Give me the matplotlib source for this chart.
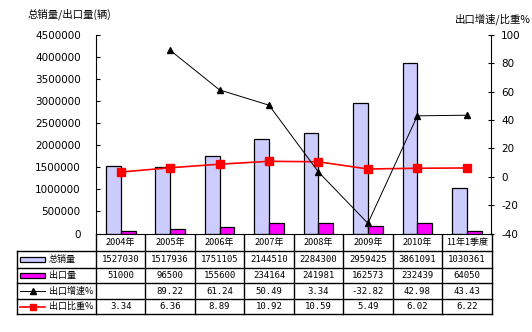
import numpy as np
import matplotlib
matplotlib.use('Agg')
import matplotlib.pyplot as plt
from matplotlib.patches import Rectangle

plt.rcParams['font.family'] = ['Noto Sans CJK SC', 'DejaVu Sans']

cats = ['2004年', '2005年', '2006年', '2007年', '2008年', '2009年', '2010年', '11年1季度']
total = [1527030, 1517936, 1751105, 2144510, 2284300, 2959425, 3861091, 1030361]
export = [51000, 96500, 155600, 234164, 241981, 162573, 232439, 64050]
growth = [np.nan, 89.22, 61.24, 50.49, 3.34, -32.82, 42.98, 43.43]
share = [3.34, 6.36, 8.89, 10.92, 10.59, 5.49, 6.02, 6.22]
growth_txt = ['', '89.22', '61.24', '50.49', '3.34', '-32.82', '42.98', '43.43']
share_txt = ['3.34', '6.36', '8.89', '10.92', '10.59', '5.49', '6.02', '6.22']
row_names = ['总销量', '出口量', '出口增速%', '出口比重%']

W, H = 532, 332
fig = plt.figure(figsize=(W / 100, H / 100), dpi=100)

# plot area in pixels
L, R, T, B = 96, 491.5, 35, 233.5
ax = fig.add_axes([L / W, 1 - B / H, (R - L) / W, (B - T) / H])
n = len(cats)
x = np.arange(n) + 0.5
bw = 0.3

ax.bar(x - bw, total, bw, align='edge', color='#CCCCFF', edgecolor='black', linewidth=0.9)
ax.bar(x, export, bw, align='edge', color='#FF00FF', edgecolor='black', linewidth=0.9)
ax.set_xlim(0, n)
ax.set_ylim(0, 4500000)
ax.set_yticks(np.arange(0, 4500001, 500000))
ax.set_yticklabels([str(v) for v in range(0, 4500001, 500000)], fontsize=7.5,
                   family='DejaVu Sans')
ax.tick_params(axis='y', direction='in', length=3, pad=11)
ax.set_xticks([])
for s in ['top', 'right']:
    ax.spines[s].set_visible(False)

ax2 = ax.twinx()
ax2.plot(x, share, color='red', linewidth=1.2, marker='s', markersize=5.5, zorder=3)
ax2.plot(x, growth, color='black', linewidth=0.7, marker='^', markersize=5, zorder=4)
ax2.set_ylim(-40, 100)
ax2.set_yticks(np.arange(-40, 101, 20))
ax2.set_yticklabels([str(v) for v in range(-40, 101, 20)], fontsize=7.5,
                    family='DejaVu Sans')
ax2.tick_params(axis='y', direction='inout', length=4, pad=5)
for s in ['top', 'left', 'bottom']:
    ax2.spines[s].set_visible(False)

fig.text(28 / W, 1 - 14 / H, '总销量/出口量(辆)', fontsize=7.5, va='center', ha='left')
fig.text(455 / W, 1 - 19 / H, '出口增速/比重%', fontsize=7.5, va='center', ha='left')

# data table drawn in pixel coordinates
ov = fig.add_axes([0, 0, 1, 1], zorder=-1)
ov.set_xlim(0, W)
ov.set_ylim(H, 0)
ov.axis('off')
cw = (R - L) / n
rows_y = [233.5, 251, 268, 283, 299, 314]
lw = 1.0
# vertical lines
for i in range(n + 1):
    ov.plot([L + i * cw] * 2, [rows_y[0], rows_y[-1]], color='black', lw=lw)
ov.plot([17, 17], [rows_y[1], rows_y[-1]], color='black', lw=lw)
# horizontal lines
for yy in rows_y[1:]:
    ov.plot([17, R], [yy, yy], color='black', lw=lw)

def mid(k):
    return (rows_y[k] + rows_y[k + 1]) / 2

for i, c in enumerate(cats):
    cx = L + (i + 0.5) * cw
    ov.text(cx, mid(0), c, fontsize=6.5, ha='center', va='center')
    ov.text(cx, mid(1), str(total[i]), fontsize=6.5, ha='center', va='center', family='DejaVu Sans Mono')
    ov.text(cx, mid(2), str(export[i]), fontsize=6.5, ha='center', va='center', family='DejaVu Sans Mono')
    ov.text(cx, mid(3), growth_txt[i], fontsize=6.5, ha='center', va='center', family='DejaVu Sans Mono')
    ov.text(cx, mid(4), share_txt[i], fontsize=6.5, ha='center', va='center', family='DejaVu Sans Mono')

# legend keys
ov.add_patch(Rectangle((20, mid(1) - 2.5), 25, 5, facecolor='#CCCCFF', edgecolor='black', lw=0.9))
ov.add_patch(Rectangle((20, mid(2) - 2.5), 25, 5, facecolor='#FF00FF', edgecolor='black', lw=0.9))
ov.plot([20, 45], [mid(3)] * 2, color='black', lw=0.7)
ov.plot([32.5], [mid(3)], marker='^', color='black', markersize=5)
ov.plot([20, 45], [mid(4)] * 2, color='red', lw=1.2)
ov.plot([32.5], [mid(4)], marker='s', color='red', markersize=5)
for k, name in enumerate(row_names):
    ov.text(49, mid(k + 1), name, fontsize=6.5, ha='left', va='center')

fig.savefig('out.png', dpi=100)
